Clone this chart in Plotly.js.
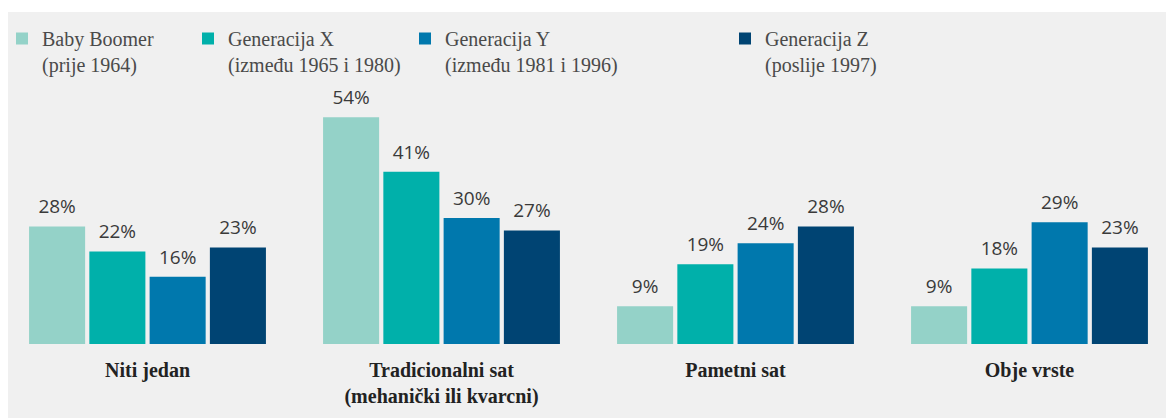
<!DOCTYPE html>
<html>
<head>
<meta charset="utf-8">
<script src="https://cdn.plot.ly/plotly-3.0.1.min.js"></script>
<style>html,body{margin:0;padding:0;background:#fff;}#chart{width:1166px;height:418px;}</style>
</head>
<body>
<div id="chart"></div>
<script>
const categories = ["Niti jedan", "Tradicionalni sat<br>(mehanički ili kvarcni)", "Pametni sat", "Obje vrste"];
const seriesNames = ["Baby Boomer<br>(prije 1964)", "Generacija X<br>(između 1965 i 1980)", "Generacija Y<br>(između 1981 i 1996)", "Generacija Z<br>(poslije 1997)"];
const babyBoomer = [28, 54, 9, 9];
const generacijaX = [22, 41, 19, 18];
const generacijaY = [16, 30, 24, 29];
const generacijaZ = [23, 27, 28, 23];

const seriesValues = [babyBoomer, generacijaX, generacijaY, generacijaZ];
const colors = ["#94d2c8", "#00b0aa", "#0078ad", "#004473"];
const legendIds = ["legend", "legend2", "legend3", "legend4"];

const W = 1166, H = 418;
const margin = {l: 8, r: 0, t: 12, b: 74};
const plotW = W - margin.l - margin.r;
const plotH = H - margin.t - margin.b;
const legendTextX = [42, 228, 445, 765];
const serif = "Liberation Serif, Times New Roman, serif";

const barTraces = seriesValues.map((vals, i) => ({
  type: "bar",
  name: seriesNames[i],
  x: categories,
  y: vals,
  offsetgroup: "g" + i,
  marker: {color: colors[i]},
  hoverinfo: "skip",
  legend: legendIds[i]
}));

const labelTraces = seriesValues.map((vals, i) => ({
  type: "scatter",
  mode: "markers+text",
  x: categories,
  y: vals,
  offsetgroup: "g" + i,
  text: vals.map(v => v + "%"),
  textposition: "top center",
  textfont: {family: "Open Sans, Noto Sans, sans-serif", size: 19, color: "#3a3a3a"},
  marker: {size: 12, opacity: 0, color: colors[i]},
  cliponaxis: false,
  hoverinfo: "skip",
  showlegend: false
}));

const legendBase = {
  y: 1 + (margin.t - 19) / plotH,
  yanchor: "top",
  xanchor: "left",
  orientation: "h",
  bgcolor: "rgba(0,0,0,0)",
  borderwidth: 0,
  valign: "top",
  font: {family: serif, size: 20, color: "#4a4a4a"}
};

const layout = {
  width: W, height: H,
  margin: margin,
  font: {family: serif, size: 20, color: "#4a4a4a"},
  paper_bgcolor: "#f0f0f0",
  plot_bgcolor: "rgba(0,0,0,0)",
  barmode: "group",
  bargap: 0.18,
  bargroupgap: 0.07,
  scattermode: "group",
  scattergap: 0.18,
  showlegend: true,
  xaxis: {
    type: "category",
    range: [-0.4745, 3.4643],
    showgrid: false, zeroline: false, showline: false,
    ticks: "outside", ticklen: 8, tickcolor: "rgba(0,0,0,0)",
    tickfont: {family: serif, size: 20, color: "#222222", weight: "bold"},
    fixedrange: true
  },
  yaxis: {
    range: [0, plotH / 4.2],
    showgrid: false, zeroline: false, showline: false, showticklabels: false,
    fixedrange: true
  },
  shapes: [
    {type: "rect", xref: "paper", yref: "paper", x0: -margin.l / plotW, x1: 1.01, y0: 1, y1: 1 + margin.t / plotH + 0.01, fillcolor: "#ffffff", line: {width: 0}, layer: "below"},
    {type: "rect", xref: "paper", yref: "paper", x0: -margin.l / plotW - 0.01, x1: 0, y0: -margin.b / plotH - 0.01, y1: 1.1, fillcolor: "#ffffff", line: {width: 0}, layer: "below"}
  ]
};

legendIds.forEach((id, i) => {
  layout[id] = Object.assign({}, legendBase, {x: (legendTextX[i] - 40 - margin.l) / plotW});
});

Plotly.newPlot("chart", barTraces.concat(labelTraces), layout, {displayModeBar: false, staticPlot: true});
</script>
</body>
</html>
